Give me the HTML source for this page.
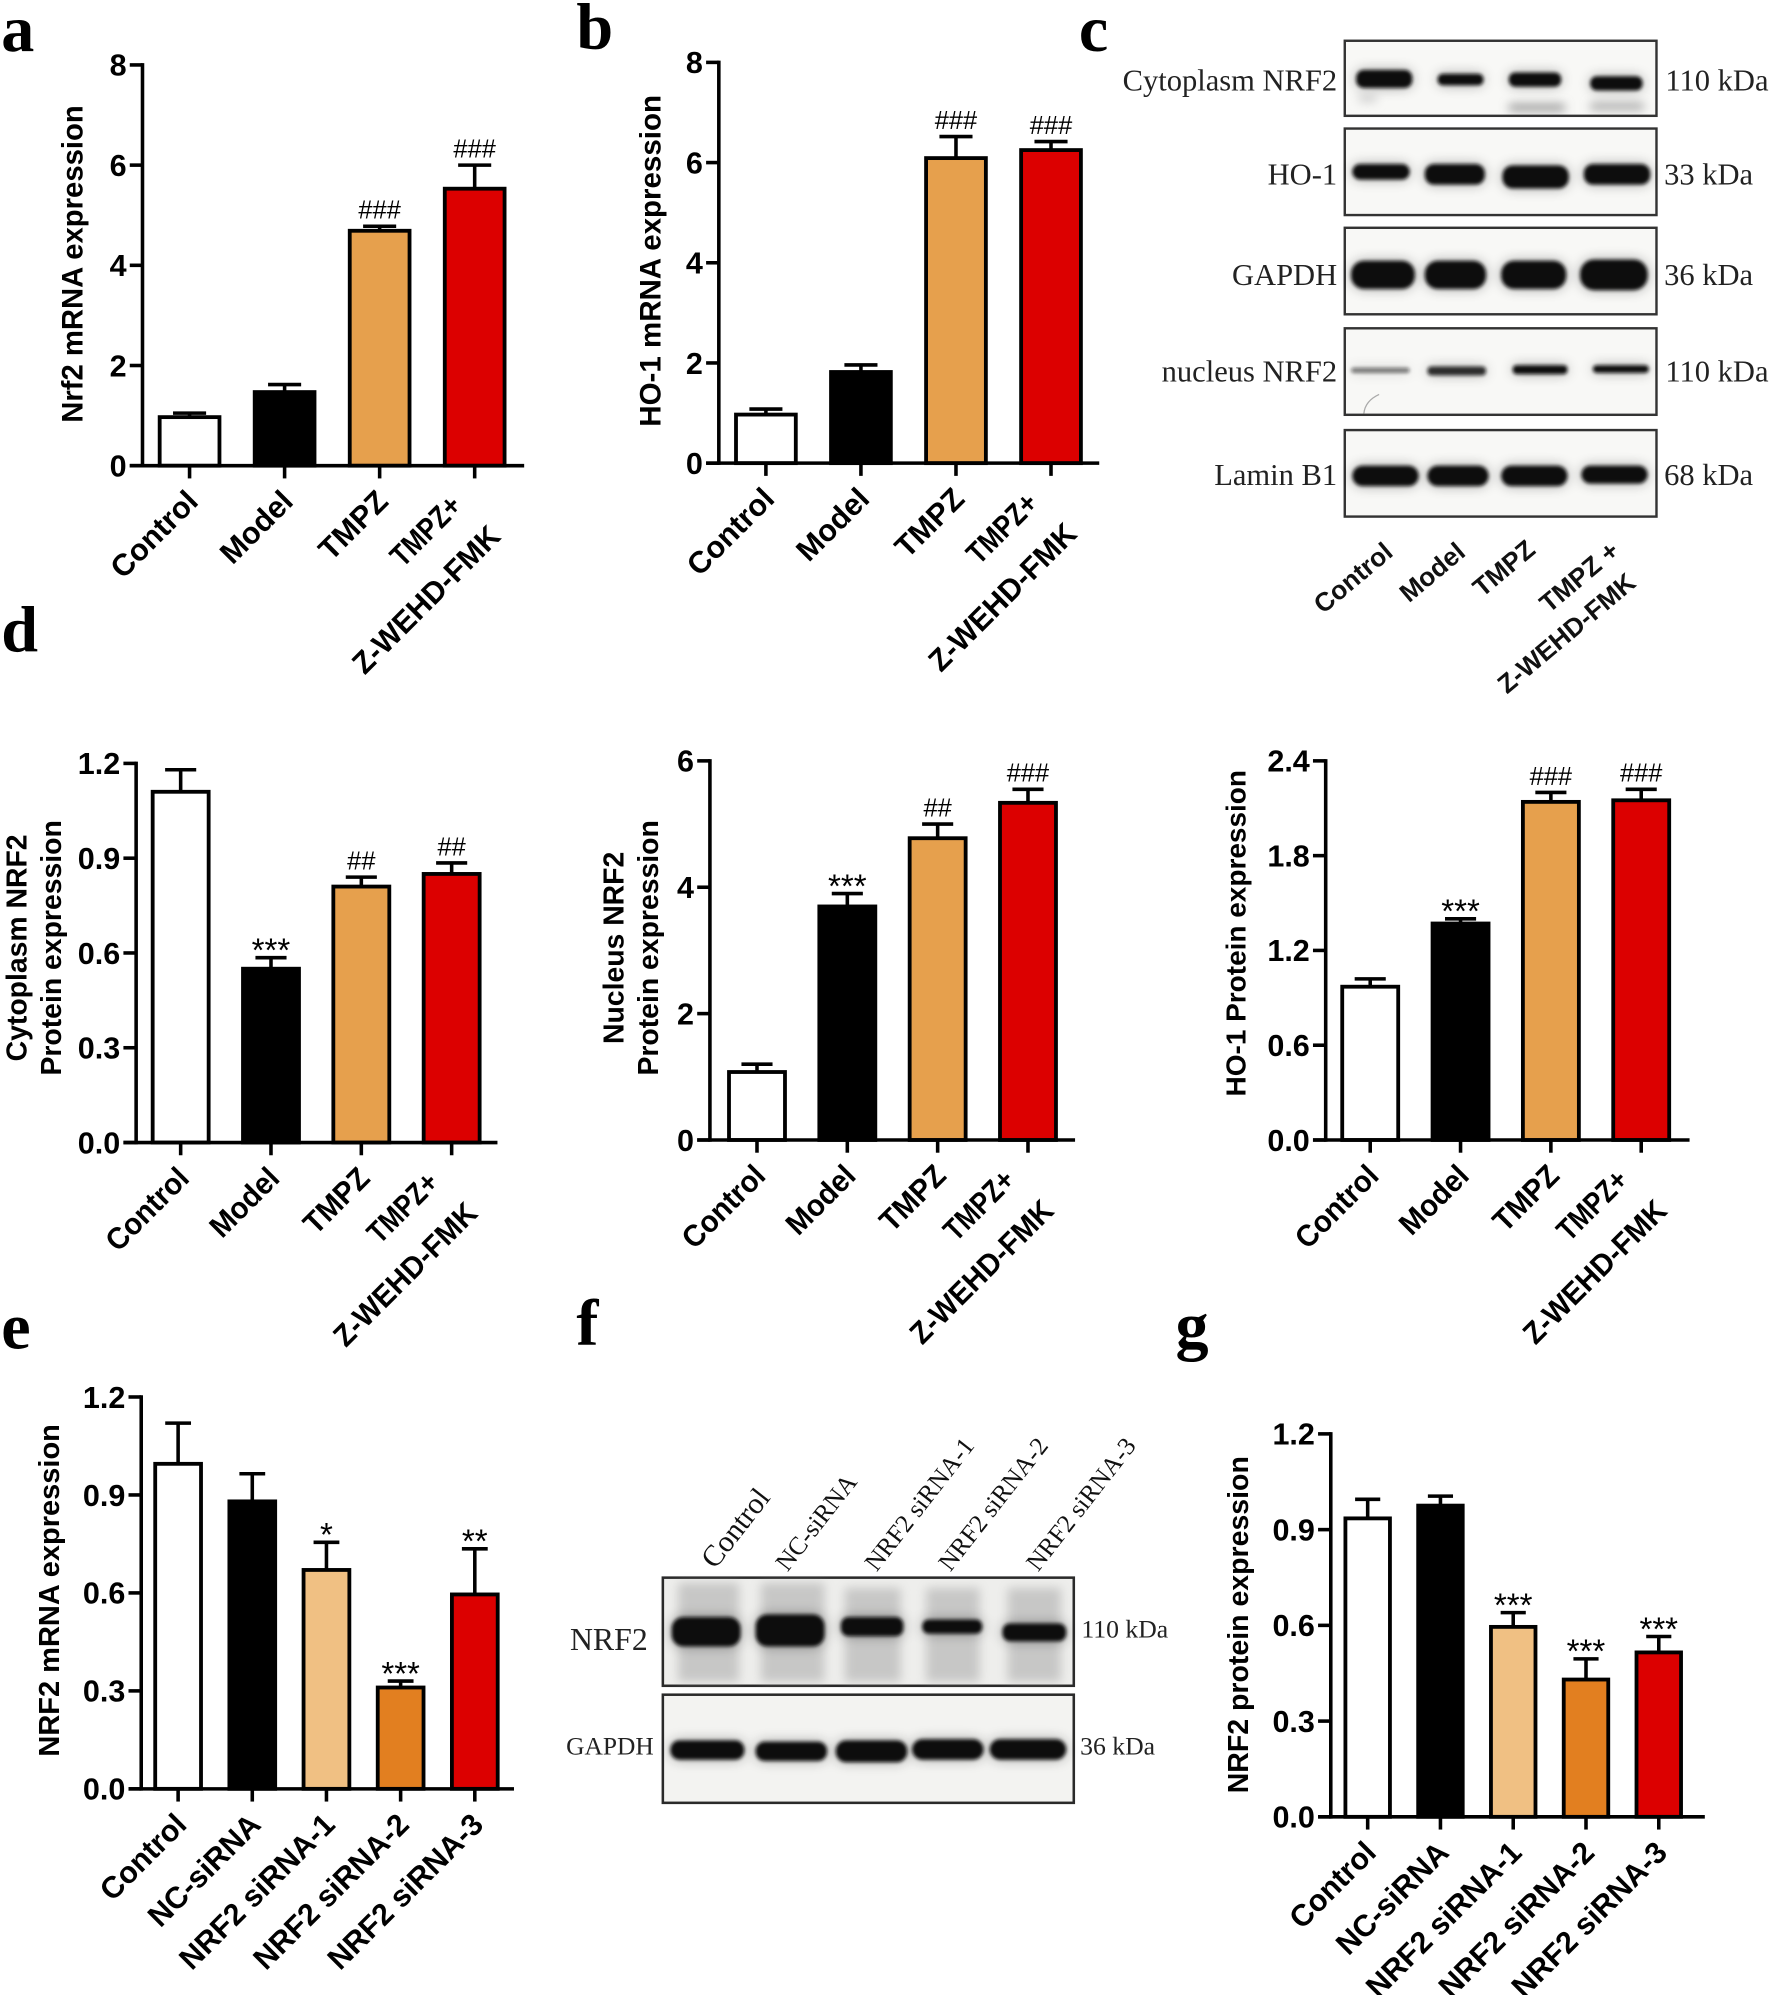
<!DOCTYPE html>
<html lang="en">
<head>
<meta charset="utf-8">
<title>NRF2 expression figure</title>
<style>
html,body{margin:0;padding:0;background:#fff;}
svg{display:block;}
.sans{font-family:"Liberation Sans",Arial,sans-serif;}
.serif{font-family:"Liberation Serif","Times New Roman",serif;}
.letter{font-family:"Liberation Serif",serif;font-weight:bold;font-size:52px;fill:#000;}
.blot-label{font-family:"Liberation Serif",serif;font-size:24px;fill:#222;}
.c-lane{font-family:"Liberation Sans",sans-serif;font-weight:bold;font-size:20.6px;fill:#111;}
.f-lane{font-family:"Liberation Serif",serif;font-size:20px;fill:#111;}
</style>
</head>
<body>
<svg id="figure" xmlns="http://www.w3.org/2000/svg" width="1772" height="1995" viewBox="0 0 1392.8 1568">
<defs>
<filter id="b2" x="-30%" y="-120%" width="160%" height="340%">
  <feGaussianBlur in="SourceGraphic" stdDeviation="1.5" result="core"/>
  <feGaussianBlur in="SourceGraphic" stdDeviation="5" result="wide"/>
  <feComponentTransfer in="wide" result="halo"><feFuncA type="linear" slope="0.35"/></feComponentTransfer>
  <feMerge><feMergeNode in="halo"/><feMergeNode in="core"/></feMerge>
</filter>
<filter id="b4" x="-20%" y="-20%" width="140%" height="140%"><feGaussianBlur stdDeviation="4"/></filter>
</defs>
<rect width="1392.8" height="1568" fill="#fff"/>

<text class="letter" x="1" y="40">a</text>
<text class="letter" x="453" y="38">b</text>
<text class="letter" x="848" y="40">c</text>
<text class="letter" x="1" y="512">d</text>
<text class="letter" x="1" y="1060">e</text>
<text class="letter" x="453" y="1057">f</text>
<text class="letter" x="924" y="1059">g</text>

<g>
  <g>
    <rect x="1057" y="32" width="245" height="59" fill="#f8f8f6" stroke="#333" stroke-width="1.9"/>
    <g fill="#111" filter="url(#b2)">
      <rect x="1066" y="55" width="44" height="14" rx="6"/><rect x="1130" y="58" width="36" height="9" rx="4"/><rect x="1186" y="57" width="41" height="11" rx="5"/><rect x="1250" y="60" width="41" height="11" rx="5"/>
    </g>
    <g filter="url(#b4)">
      <rect x="1186" y="82" width="44" height="5" fill="#888"/><rect x="1250" y="81" width="42" height="5" fill="#999"/><rect x="1068" y="74" width="14" height="6" fill="#ccc"/>
    </g>
  </g>
  <g>
    <rect x="1057" y="101" width="245" height="68" fill="#f8f8f6" stroke="#333" stroke-width="1.9"/>
    <g fill="#111" filter="url(#b2)">
      <rect x="1063" y="129" width="45" height="12" rx="6"/><rect x="1120" y="129" width="47" height="16" rx="7"/><rect x="1181" y="130" width="52" height="18" rx="8"/><rect x="1245" y="129" width="52" height="16" rx="7"/>
    </g>
  </g>
  <g>
    <rect x="1057" y="179" width="245" height="68" fill="#f8f8f6" stroke="#333" stroke-width="1.9"/>
    <g fill="#111" filter="url(#b2)">
      <rect x="1062" y="205" width="50" height="22" rx="10"/><rect x="1120" y="205" width="48" height="22" rx="10"/><rect x="1180" y="205" width="51" height="22" rx="10"/><rect x="1242" y="204" width="53" height="24" rx="11"/>
    </g>
  </g>
  <g>
    <rect x="1057" y="258" width="245" height="68" fill="#f8f8f6" stroke="#333" stroke-width="1.9"/>
    <g fill="#111" filter="url(#b2)">
      <rect x="1062" y="289" width="46" height="4" rx="2" opacity="0.55"/><rect x="1122" y="288" width="46" height="7" rx="3" opacity="0.85"/><rect x="1189" y="287" width="43" height="7" rx="3"/><rect x="1252" y="287" width="44" height="6" rx="3"/>
    </g>
    <path d="M1072 325 Q1073 315 1084 310" fill="none" stroke="#aaa" stroke-width="1"/>
  </g>
  <g>
    <rect x="1057" y="338" width="245" height="68" fill="#f8f8f6" stroke="#333" stroke-width="1.9"/>
    <g fill="#111" filter="url(#b2)">
      <rect x="1063" y="366" width="52" height="16" rx="8"/><rect x="1122" y="366" width="48" height="16" rx="8"/><rect x="1180" y="366" width="52" height="16" rx="8"/><rect x="1243" y="366" width="52" height="14" rx="7"/>
    </g>
  </g>
  <text class="blot-label" x="1051" y="71" text-anchor="end">Cytoplasm NRF2</text>
  <text class="blot-label" x="1051" y="145" text-anchor="end">HO-1</text>
  <text class="blot-label" x="1051" y="224" text-anchor="end">GAPDH</text>
  <text class="blot-label" x="1051" y="300" text-anchor="end">nucleus NRF2</text>
  <text class="blot-label" x="1051" y="381" text-anchor="end">Lamin B1</text>
  <text class="blot-label" x="1309" y="71">110 kDa</text>
  <text class="blot-label" x="1308" y="145">33 kDa</text>
  <text class="blot-label" x="1308" y="224">36 kDa</text>
  <text class="blot-label" x="1309" y="300">110 kDa</text>
  <text class="blot-label" x="1308" y="381">68 kDa</text>
  <text class="c-lane" text-anchor="end" transform="translate(1096,436) rotate(-40)">Control</text>
  <text class="c-lane" text-anchor="end" transform="translate(1153,436) rotate(-40)">Model</text>
  <text class="c-lane" text-anchor="end" transform="translate(1208,434) rotate(-40)">TMPZ</text>
  <text class="c-lane" text-anchor="end" transform="translate(1274,435) rotate(-40)">TMPZ +</text>
  <text class="c-lane" text-anchor="end" transform="translate(1287,460) rotate(-40)">Z-WEHD-FMK</text>
</g>

<g>
  <g>
    <rect x="521" y="1240" width="323" height="85" fill="#eeeeec" stroke="#2a2a2a" stroke-width="2"/>
    <g fill="#999" opacity="0.45" filter="url(#b4)">
      <rect x="533" y="1244" width="48" height="78"/><rect x="598" y="1244" width="50" height="78"/><rect x="664" y="1248" width="44" height="74"/><rect x="728" y="1248" width="42" height="74"/><rect x="792" y="1248" width="42" height="74"/>
    </g>
    <g fill="#111" filter="url(#b2)">
      <rect x="528" y="1271" width="54" height="23" rx="9"/><rect x="594" y="1269" width="54" height="25" rx="9"/><rect x="661" y="1271" width="49" height="15" rx="6"/><rect x="725" y="1273" width="47" height="11" rx="5"/><rect x="788" y="1276" width="50" height="14" rx="6"/>
    </g>
  </g>
  <g>
    <rect x="521" y="1332" width="323" height="85" fill="#f3f3f1" stroke="#2a2a2a" stroke-width="2"/>
    <g fill="#111" filter="url(#b2)">
      <rect x="527" y="1368" width="58" height="15" rx="7"/><rect x="594" y="1369" width="56" height="15" rx="7"/><rect x="657" y="1368" width="56" height="17" rx="8"/><rect x="717" y="1367" width="56" height="16" rx="8"/><rect x="778" y="1367" width="60" height="16" rx="8"/>
    </g>
  </g>
  <text class="serif" x="448" y="1297" font-size="25" fill="#222">NRF2</text>
  <text class="serif" x="445" y="1379" font-size="20" fill="#222">GAPDH</text>
  <text class="serif" x="850" y="1287" font-size="20.2" fill="#222">110 kDa</text>
  <text class="serif" x="849" y="1379" font-size="20.2" fill="#222">36 kDa</text>
  <text class="f-lane" style="font-size:23.5px" transform="translate(562,1234) rotate(-52)">Control</text>
  <text class="f-lane" transform="translate(619,1236) rotate(-52)">NC-siRNA</text>
  <text class="f-lane" transform="translate(689,1236) rotate(-52)">NRF2 siRNA-1</text>
  <text class="f-lane" transform="translate(747,1236) rotate(-52)">NRF2 siRNA-2</text>
  <text class="f-lane" transform="translate(816,1236) rotate(-52)">NRF2 siRNA-3</text>
</g>

<g id="charts"></g>
</svg>

<script>
/* ---------- chart data ---------- */
const groupCategories = ['Control', 'Model', 'TMPZ', 'TMPZ+|Z-WEHD-FMK'];
const sirnaCategories = ['Control', 'NC-siRNA', 'NRF2 siRNA-1', 'NRF2 siRNA-2', 'NRF2 siRNA-3'];
const groupFills = ['#ffffff', '#000000', '#e6a04d', '#dc0000'];
const sirnaFills = ['#ffffff', '#000000', '#f0c083', '#e27f20', '#dc0000'];

const panelAValues = [1.0, 1.5, 4.72, 5.56];
const panelAErrorTops = [1.05, 1.62, 4.78, 6.0];
const panelATicks = ['0', '2', '4', '6', '8'];
const panelAMarks = ['', '', '###', '###'];

const panelBValues = [1.0, 1.85, 6.12, 6.28];
const panelBErrorTops = [1.08, 1.96, 6.52, 6.42];
const panelBTicks = ['0', '2', '4', '6', '8'];
const panelBMarks = ['', '', '###', '###'];

const panelD1Values = [1.115, 0.555, 0.815, 0.855];
const panelD1ErrorTops = [1.18, 0.585, 0.84, 0.885];
const panelD1Ticks = ['0.0', '0.3', '0.6', '0.9', '1.2'];
const panelD1Marks = ['', '***', '##', '##'];

const panelD2Values = [1.1, 3.72, 4.8, 5.36];
const panelD2ErrorTops = [1.2, 3.9, 5.0, 5.55];
const panelD2Ticks = ['0', '2', '4', '6'];
const panelD2Marks = ['', '***', '##', '###'];

const panelD3Values = [0.98, 1.38, 2.15, 2.16];
const panelD3ErrorTops = [1.02, 1.40, 2.2, 2.22];
const panelD3Ticks = ['0.0', '0.6', '1.2', '1.8', '2.4'];
const panelD3Marks = ['', '***', '###', '###'];

const panelEValues = [1.0, 0.885, 0.675, 0.315, 0.6];
const panelEErrorTops = [1.12, 0.965, 0.755, 0.33, 0.735];
const panelETicks = ['0.0', '0.3', '0.6', '0.9', '1.2'];
const panelEMarks = ['', '', '*', '***', '**'];

const panelGValues = [0.94, 0.98, 0.6, 0.435, 0.52];
const panelGErrorTops = [0.995, 1.005, 0.64, 0.495, 0.565];
const panelGTicks = ['0.0', '0.3', '0.6', '0.9', '1.2'];
const panelGMarks = ['', '', '***', '***', '***'];

/* ---------- drawing ---------- */
const SVG_NS = 'http://www.w3.org/2000/svg';
const chartsRoot = document.getElementById('charts');
const SANS = '"Liberation Sans", Arial, sans-serif';
const LINE = 2.8;

function svgEl(parent, tag, attrs, text) {
  const el = document.createElementNS(SVG_NS, tag);
  for (const k in attrs) el.setAttribute(k, attrs[k]);
  if (text !== undefined) el.textContent = text;
  parent.appendChild(el);
  return el;
}

function drawChart(id, layout, categories, fills, values, errorTops, ticks, marks) {
  const group = svgEl(chartsRoot, 'g', {});
  
  

  const maxTick = Number(ticks[ticks.length - 1]);
  const yScale = function (v) { return layout.y0 - (v / maxTick) * (layout.y0 - layout.yTop); };
  const xScale = function (i) { return layout.first + i * layout.step; };

  /* bars + error bars */
  categories.forEach(function (cat, i) {
    const cx = xScale(i);
    const top = yScale(values[i]) + 1.2;
    const errTop = yScale(errorTops[i]);

    const stem = svgEl(group, 'line', { x1: cx, x2: cx, y1: top, y2: errTop, stroke: '#000', 'stroke-width': LINE });
    
    

    const cap = svgEl(group, 'line', { x1: cx - layout.barW * 0.26, x2: cx + layout.barW * 0.26, y1: errTop, y2: errTop, stroke: '#000', 'stroke-width': LINE });
    
    

    const bar = svgEl(group, 'rect', {
      x: cx - layout.barW / 2 + 1.5, y: top, width: layout.barW - 3, height: layout.y0 - top,
      fill: fills[i], stroke: '#000', 'stroke-width': 3
    });
    
    

    if (marks[i]) {
      const isStar = marks[i].indexOf('*') >= 0;
      const mark = svgEl(group, 'text', {
        x: cx, y: errTop + (isStar ? 3 : -6), 'text-anchor': 'middle',
        'font-family': SANS, 'font-size': isStar ? 26 : 20, fill: '#000'
      }, marks[i]);
      
      
    }

    /* x tick */
    const tick = svgEl(group, 'line', { x1: cx, x2: cx, y1: layout.y0, y2: layout.y0 + 10, stroke: '#000', 'stroke-width': LINE });
    
    

    /* category labels */
    const lines = cat.split('|');
    if (lines.length === 1) {
      const lab = svgEl(group, 'text', {
        'text-anchor': 'end', 'font-family': SANS, 'font-weight': 'bold', 'font-size': layout.xFont, fill: '#000',
        transform: 'translate(' + (cx + 8) + ',' + (layout.y0 + 29.5) + ') rotate(-45) scale(' + layout.labelStretch + ',1)'
      }, lines[0]);
      
      
    } else {
      const l1 = svgEl(group, 'text', {
        'text-anchor': 'end', 'font-family': SANS, 'font-weight': 'bold', 'font-size': layout.xFont, fill: '#000',
        transform: 'translate(' + (cx - 9) + ',' + (layout.y0 + 33) + ') rotate(-45) scale(0.85,1)'
      }, lines[0]);
      
      
      const l2 = svgEl(group, 'text', {
        'text-anchor': 'end', 'font-family': SANS, 'font-weight': 'bold', 'font-size': layout.xFont, fill: '#000',
        transform: 'translate(' + (cx + 21.6) + ',' + (layout.y0 + 57) + ') rotate(-45) scale(' + layout.line2Stretch + ',1)'
      }, lines[1]);
      
      
    }
  });

  /* axes */
  const yAxis = svgEl(group, 'line', { x1: layout.axisX, x2: layout.axisX, y1: layout.yTop - 1.4, y2: layout.y0 + 1.4, stroke: '#000', 'stroke-width': LINE });
  
  

  const xAxis = svgEl(group, 'line', { x1: layout.axisX - 10, x2: layout.xEnd, y1: layout.y0, y2: layout.y0, stroke: '#000', 'stroke-width': LINE });
  
  

  ticks.forEach(function (t, i) {
    const y = yScale(Number(t));
    const tk = svgEl(group, 'line', { x1: layout.axisX - 10, x2: layout.axisX, y1: y, y2: y, stroke: '#000', 'stroke-width': LINE });
    
    
    const lab = svgEl(group, 'text', {
      x: layout.axisX - 12.5, y: y + 8.5, 'text-anchor': 'end',
      'font-family': SANS, 'font-weight': 'bold', 'font-size': 24, fill: '#000'
    }, t);
    
    
  });

  /* y titles */
  layout.titles.forEach(function (title, i) {
    const tt = svgEl(group, 'text', {
      'text-anchor': 'middle', 'font-family': SANS, 'font-weight': 'bold', 'font-size': layout.titleFont, fill: '#000',
      transform: 'translate(' + title.x + ',' + title.y + ') rotate(-90)'
    }, title.text);
    
    
  });
}

drawChart('a', { axisX: 112, y0: 366, yTop: 51, xEnd: 412, first: 149, step: 74.7, barW: 50, labelStretch: 1, line2Stretch: 0.98, xFont: 24, titleFont: 23,
  titles: [{ x: 65, y: 207.5, text: 'Nrf2 mRNA expression' }] },
  groupCategories, groupFills, panelAValues, panelAErrorTops, panelATicks, panelAMarks);

drawChart('b', { axisX: 565, y0: 364, yTop: 49, xEnd: 864, first: 602, step: 74.7, barW: 50, labelStretch: 1, line2Stretch: 0.98, xFont: 24, titleFont: 23.2,
  titles: [{ x: 519, y: 205, text: 'HO-1 mRNA expression' }] },
  groupCategories, groupFills, panelBValues, panelBErrorTops, panelBTicks, panelBMarks);

drawChart('d-cytoplasm', { axisX: 107, y0: 898, yTop: 600, xEnd: 391, first: 142, step: 71, barW: 47, labelStretch: 0.95, line2Stretch: 0.95, xFont: 24, titleFont: 22.3,
  titles: [{ x: 21, y: 745, text: 'Cytoplasm NRF2' }, { x: 48, y: 745, text: 'Protein expression' }] },
  groupCategories, groupFills, panelD1Values, panelD1ErrorTops, panelD1Ticks, panelD1Marks);

drawChart('d-nucleus', { axisX: 558, y0: 896, yTop: 598, xEnd: 845, first: 595, step: 71, barW: 47, labelStretch: 0.95, line2Stretch: 0.95, xFont: 24, titleFont: 22.3,
  titles: [{ x: 490, y: 745, text: 'Nucleus NRF2' }, { x: 517, y: 745, text: 'Protein expression' }] },
  groupCategories, groupFills, panelD2Values, panelD2ErrorTops, panelD2Ticks, panelD2Marks);

drawChart('d-ho-1', { axisX: 1042, y0: 896, yTop: 598, xEnd: 1328, first: 1077, step: 71, barW: 47, labelStretch: 0.95, line2Stretch: 0.95, xFont: 24, titleFont: 22,
  titles: [{ x: 979, y: 733.5, text: 'HO-1 Protein expression' }] },
  groupCategories, groupFills, panelD3Values, panelD3ErrorTops, panelD3Ticks, panelD3Marks);

drawChart('e', { axisX: 111, y0: 1406, yTop: 1098, xEnd: 404, first: 140, step: 58.3, barW: 39, labelStretch: 0.99, line2Stretch: 1, xFont: 24, titleFont: 22.8,
  titles: [{ x: 46.5, y: 1250, text: 'NRF2 mRNA expression' }] },
  sirnaCategories, sirnaFills, panelEValues, panelEErrorTops, panelETicks, panelEMarks);

drawChart('g', { axisX: 1046, y0: 1428, yTop: 1127, xEnd: 1340, first: 1075, step: 57.2, barW: 38, labelStretch: 0.99, line2Stretch: 1, xFont: 24, titleFont: 22.4,
  titles: [{ x: 981, y: 1277, text: 'NRF2 protein expression' }] },
  sirnaCategories, sirnaFills, panelGValues, panelGErrorTops, panelGTicks, panelGMarks);
</script>
</body>
</html>
